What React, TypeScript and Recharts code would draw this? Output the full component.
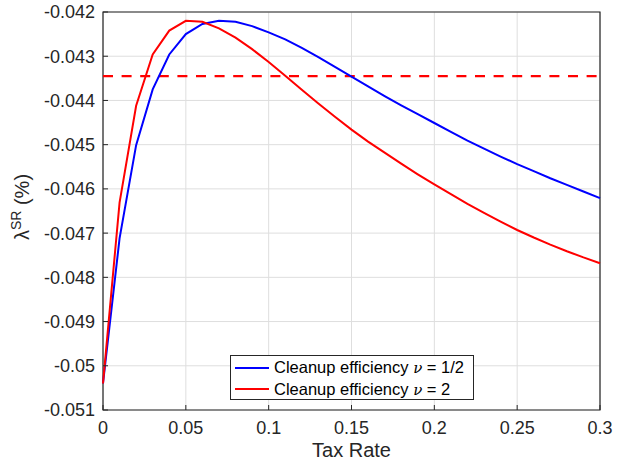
import React from 'react';
import {
  LineChart,
  Line,
  XAxis,
  YAxis,
  CartesianGrid,
  ReferenceLine,
  ReferenceArea,
  Legend,
} from 'recharts';

const taxRate = [
  0, 0.01, 0.02, 0.03, 0.04, 0.05, 0.06, 0.07, 0.08, 0.09, 0.1, 0.11, 0.12, 0.13, 0.14, 0.15,
  0.16, 0.17, 0.18, 0.19, 0.2, 0.21, 0.22, 0.23, 0.24, 0.25, 0.26, 0.27, 0.28, 0.29, 0.3,
];

const nuHalf = [
  -0.0504, -0.04712, -0.04501, -0.04375, -0.04296, -0.0425, -0.04227, -0.0422, -0.04222, -0.04232,
  -0.04246, -0.04262, -0.04281, -0.04302, -0.04324, -0.04346, -0.04368, -0.0439, -0.04411, -0.04431,
  -0.04451, -0.04471, -0.04491, -0.04509, -0.04527, -0.04544, -0.0456, -0.04576, -0.04591, -0.04606,
  -0.04621,
];

const nuTwo = [
  -0.0504, -0.04631, -0.04412, -0.04296, -0.04242, -0.0422, -0.04222, -0.04237, -0.04258, -0.04284,
  -0.04313, -0.04344, -0.04376, -0.04407, -0.04437, -0.04466, -0.04493, -0.04518, -0.04543, -0.04567,
  -0.0459, -0.04612, -0.04634, -0.04654, -0.04674, -0.04693, -0.0471, -0.04726, -0.04741, -0.04755,
  -0.04768,
];

const baseline = -0.04345;

const xTicks = [0, 0.05, 0.1, 0.15, 0.2, 0.25, 0.3];
const yTicks = [-0.051, -0.05, -0.049, -0.048, -0.047, -0.046, -0.045, -0.044, -0.043, -0.042];

const legendNu = ['1/2', '2'];

const data = taxRate.map((x, i) => ({ x, half: nuHalf[i], two: nuTwo[i] }));

const FONT = '"Liberation Sans", Arial, Helvetica, sans-serif';
const AXIS = '#262626';
const TICK_LEN = 5;

// matlab style: drop trailing zeros (-0.05, not -0.050)
const fmt = (v: number) => String(Number(v.toFixed(3)));

const LeftTick = (props: any) => {
  const { x, y, payload } = props;
  return (
    <g>
      <text x={x} y={y} dy="0.355em" textAnchor="end" fontSize={18} fontFamily={FONT} fill={AXIS}>
        {fmt(payload.value)}
      </text>
      <line x1={x + 8} x2={x + 8 + TICK_LEN} y1={y} y2={y} stroke={AXIS} strokeWidth={1} />
    </g>
  );
};

const RightTick = (props: any) => {
  const { x, y } = props;
  return <line x1={x} x2={x - TICK_LEN} y1={y} y2={y} stroke={AXIS} strokeWidth={1} />;
};

const BottomTick = (props: any) => {
  const { x, y, payload } = props;
  return (
    <g>
      <text x={x} y={y} dy="0.71em" textAnchor="middle" fontSize={18} fontFamily={FONT} fill={AXIS}>
        {fmt(payload.value)}
      </text>
      <line x1={x} x2={x} y1={y - 11} y2={y - 11 - TICK_LEN} stroke={AXIS} strokeWidth={1} />
    </g>
  );
};

const TopTick = (props: any) => {
  const { x, y } = props;
  return <line x1={x} x2={x} y1={y} y2={y + TICK_LEN} stroke={AXIS} strokeWidth={1} />;
};

const YTitle = (props: any) => {
  const { viewBox } = props;
  const cx = viewBox.x + 29;
  const cy = viewBox.y + viewBox.height / 2 - 4;
  return (
    <text
      transform={`translate(${cx},${cy}) rotate(-90)`}
      textAnchor="middle"
      fontSize={20}
      fontFamily={FONT}
      fill={AXIS}
    >
      <tspan>λ</tspan>
      <tspan dy={-8} fontSize={14}>SR</tspan>
      <tspan dy={8}> (%)</tspan>
    </text>
  );
};

const XTitle = (props: any) => {
  const { viewBox } = props;
  return (
    <text
      x={viewBox.x + viewBox.width / 2}
      y={viewBox.y + 47}
      textAnchor="middle"
      fontSize={20}
      fontFamily={FONT}
      fill={AXIS}
    >
      Tax Rate
    </text>
  );
};

const LegendBox = (props: any) => {
  const items = props.payload || [];
  return (
    <div
      style={{
        width: 244,
        height: 45,
        boxSizing: 'border-box',
        border: `1px solid ${AXIS}`,
        background: '#fff',
        fontFamily: FONT,
        fontSize: 16.5,
        color: '#000',
        paddingTop: 1,
      }}
    >
      {items.map((it: any, i: number) => (
        <div key={i} style={{ display: 'flex', alignItems: 'center', height: 21.5 }}>
          <svg width={43} height={10} style={{ flex: 'none' }}>
            <line x1={4} x2={38} y1={5} y2={5} stroke={it.color} strokeWidth={2} />
          </svg>
          <span style={{ whiteSpace: 'nowrap' }}>
            Cleanup efficiency <i style={{ fontFamily: '"DejaVu Serif", serif', fontSize: 15 }}>ν</i> = {legendNu[i]}
          </span>
        </div>
      ))}
    </div>
  );
};

export default function App() {
  return (
    <div style={{ position: 'absolute', left: 0, top: 0, width: 626, height: 468, background: '#fff' }}>
      <LineChart
        width={626}
        height={468}
        data={data}
        margin={{ top: 12, right: 26, bottom: 0, left: 0 }}
      >
        <CartesianGrid stroke="#dedede" strokeWidth={1} />
        <XAxis
          dataKey="x"
          type="number"
          domain={[0, 0.3]}
          ticks={xTicks}
          interval={0}
          height={58}
          tickSize={0}
          tickMargin={11}
          axisLine={false}
          tick={<BottomTick />}
          label={{ content: <XTitle /> }}
        />
        <XAxis
          xAxisId="top"
          orientation="top"
          type="number"
          domain={[0, 0.3]}
          ticks={xTicks}
          interval={0}
          height={0}
          tickSize={0}
          tickMargin={0}
          axisLine={false}
          tick={<TopTick />}
        />
        <YAxis
          type="number"
          domain={[-0.051, -0.042]}
          ticks={yTicks}
          interval={0}
          width={103}
          tickSize={0}
          tickMargin={8}
          axisLine={false}
          allowDataOverflow
          tick={<LeftTick />}
          label={{ content: <YTitle /> }}
        />
        <YAxis
          yAxisId="right"
          orientation="right"
          type="number"
          domain={[-0.051, -0.042]}
          ticks={yTicks}
          interval={0}
          width={0}
          tickSize={0}
          tickMargin={0}
          axisLine={false}
          allowDataOverflow
          tick={<RightTick />}
        />
        <ReferenceArea
          x1={0}
          x2={0.3}
          y1={-0.051}
          y2={-0.042}
          fill="none"
          fillOpacity={0}
          stroke={AXIS}
          strokeWidth={1.2}
        />
        <ReferenceLine y={baseline} stroke="#ff0000" strokeWidth={2.3} strokeDasharray="10 8.6" />
        <Line
          type="linear"
          dataKey="half"
          name="nu12"
          stroke="#0000ff"
          strokeWidth={2}
          dot={false}
          isAnimationActive={false}
        />
        <Line
          type="linear"
          dataKey="two"
          name="nu2"
          stroke="#ff0000"
          strokeWidth={2}
          dot={false}
          isAnimationActive={false}
        />
        <Legend
          layout="horizontal"
          verticalAlign="middle"
          align="center"
          content={<LegendBox />}
          wrapperStyle={{ left: 230, top: 355, width: 244, height: 45 }}
        />
      </LineChart>
    </div>
  );
}
